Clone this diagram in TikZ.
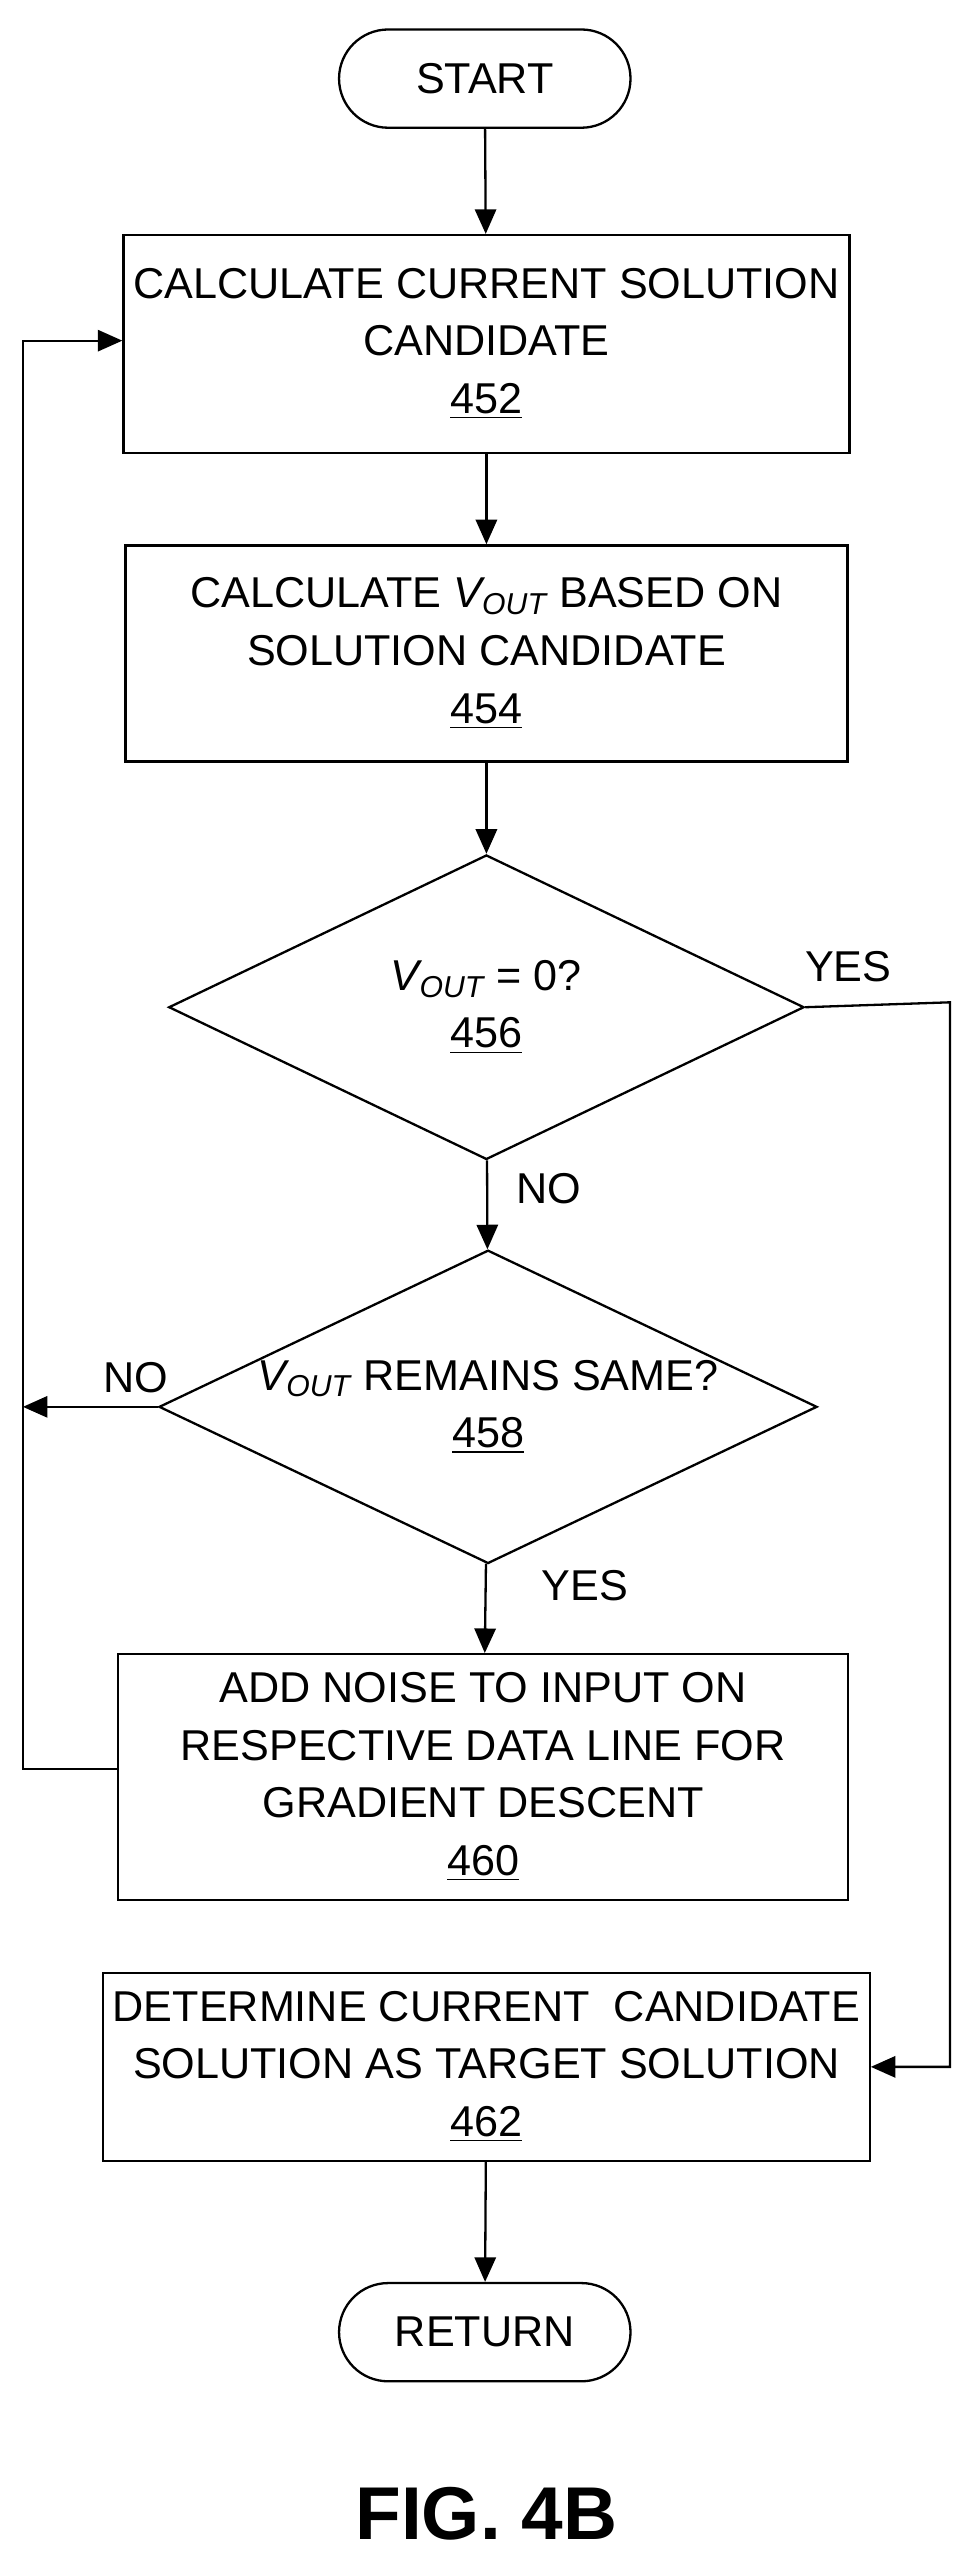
\documentclass[tikz,border=0pt]{standalone}
\usepackage{fontspec}
\setmainfont{Liberation Sans}
\usetikzlibrary{shapes.geometric, positioning, arrows.meta}
\tikzset{every box/.style={draw,thick,minimum width=8.82cm,align=center,font=\fontsize{15}{20}\selectfont},
         terminal/.style={draw,thick,rounded corners=0.6cm,minimum width=3.56cm,minimum height=1.2cm,font=\fontsize{15}{20}\selectfont},
         decision/.style={draw,thick,diamond,aspect=2.1,minimum width=7.76cm,minimum height=3.72cm,inner sep=0pt,align=center,font=\fontsize{15}{20}\selectfont},
         flow/.style={thick,-{Triangle[length=3mm,width=2.6mm]}},
         lbl/.style={font=\fontsize{15}{18}\selectfont},
        }
\newcommand{\vout}{\textit{V\textsubscript{OUT}}}

\begin{document}
\begin{tikzpicture}[x=0.02cm,y=-0.02cm]
        \useasboundingbox (0,0) rectangle (595,1568);
        \node[terminal](start)at(296,48){START};
        \node[every box, minimum height=2.66cm](b452)at(297,210){CALCULATE CURRENT SOLUTION\\CANDIDATE\\\underline{452}};
        \node[every box, minimum height=2.64cm](b454)at(297,399){CALCULATE \vout{} BASED ON\\SOLUTION CANDIDATE\\\underline{454}};
        \node[decision](d456)at(297,615){\vout{} = 0?\\\underline{456}};
        \node[decision](d458)at(298,859){\vout{} REMAINS SAME?\\\underline{458}};
        \node[every box, minimum width=8.92cm, minimum height=3cm](b460)at(295,1085){ADD NOISE TO INPUT ON\\RESPECTIVE DATA LINE FOR\\GRADIENT DESCENT\\\underline{460}};
        \node[every box, minimum height=2.3cm](b462)at(297,1262){DETERMINE CURRENT\ \ CANDIDATE\\SOLUTION AS TARGET SOLUTION\\\underline{462}};
        \node[terminal](ret)at(296,1424){RETURN};
        \node[font=\bfseries\fontsize{26}{30}\selectfont](fig)at(297,1535){FIG. 4B};

        \coordinate(left458)at(14,859);
        \coordinate(loopL)at(14,1080);
        \coordinate(loopT)at(14,208);
        \coordinate(yesR)at(580,612);

        \draw[flow](start)--(b452);
        \draw[flow](b452)--(b454);
        \draw[flow](b454)--(d456);
        \draw[flow](d456)--(d458);
        \draw[flow](d458)--(b460);
        \draw[flow](b462)--(ret);
        \draw[flow](d458.west)--(left458);
        \draw[flow](b460.west|-loopL)--(loopL)--(loopT)--(b452.west|-loopT);
        \draw[flow](d456.east)--(yesR)--(yesR|-b462)--(b462.east);

        \node[lbl](yes456)at(518,590){YES};
        \node[lbl](no456)at(335,726){NO};
        \node[lbl](no458)at(83,841){NO};
        \node[lbl](yes458)at(357,968){YES};
    \end{tikzpicture}
\end{document}
